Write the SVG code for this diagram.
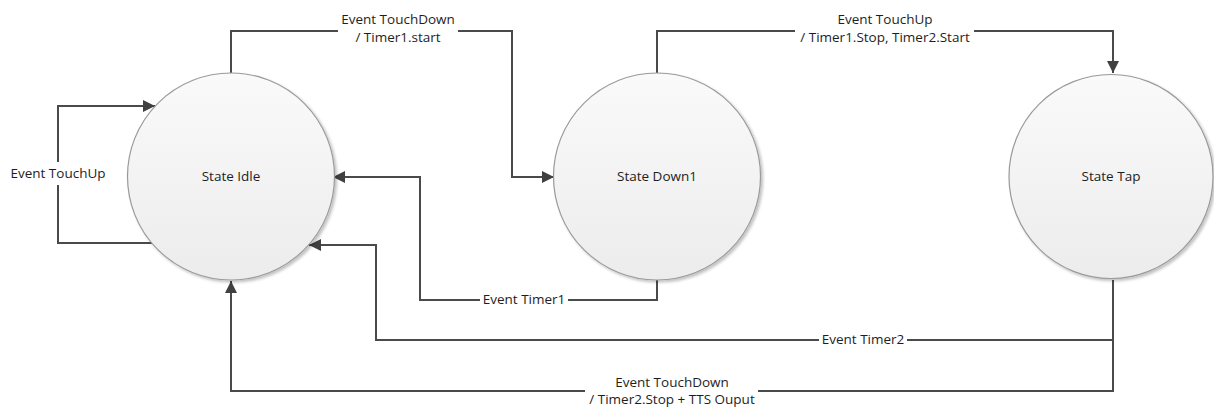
<svg xmlns="http://www.w3.org/2000/svg" width="1214" height="407" viewBox="0 0 1214 407">
<defs>
<linearGradient id="g" x1="0" y1="0" x2="0" y2="1">
<stop offset="0" stop-color="#fafafa"/>
<stop offset="1" stop-color="#ececec"/>
</linearGradient>
<filter id="sh" x="-10%" y="-10%" width="130%" height="130%">
<feGaussianBlur in="SourceAlpha" stdDeviation="1.5"/>
<feOffset dx="2" dy="2"/>
<feComponentTransfer><feFuncA type="linear" slope="0.25"/></feComponentTransfer>
<feMerge><feMergeNode/><feMergeNode in="SourceGraphic"/></feMerge>
</filter>
<marker id="ah" markerUnits="userSpaceOnUse" markerWidth="14" markerHeight="12" refX="12" refY="6" orient="auto">
<path d="M0,0 L12,6 L0,12 Z" fill="#404040"/>
</marker>
</defs>
<style>
.st{fill:url(#g);stroke:#9a9a9a;stroke-width:1.2;filter:url(#sh)}
.c{fill:none;stroke:#4a4a4a;stroke-width:2}
text{font-family:"Open Sans","Liberation Sans",sans-serif;font-size:13.5px;fill:#1e1e1e}
.m{text-anchor:middle}
</style>
<rect width="1214" height="407" fill="#ffffff"/>
<g id="connectors">
<polyline class="c" points="231,73 231,31 338,31"/>
<polyline class="c" points="458,31 512,31 512,177 554,177" marker-end="url(#ah)"/>
<polyline class="c" points="657,73 657,31 795,31"/>
<polyline class="c" points="974,31 1113,31 1113,73" marker-end="url(#ah)"/>
<polyline class="c" points="152,243 58,243 58,185"/>
<polyline class="c" points="58,162 58,106 155,106" marker-end="url(#ah)"/>
<polyline class="c" points="657,280 657,300 568,300"/>
<polyline class="c" points="480,300 420,300 420,177 333,177" marker-end="url(#ah)"/>
<polyline class="c" points="1113,280 1113,340 907,340"/>
<polyline class="c" points="819,340 376,340 376,245 309,245" marker-end="url(#ah)"/>
<polyline class="c" points="1113,340 1113,391 758,391"/>
<polyline class="c" points="585,391 231,391 231,281" marker-end="url(#ah)"/>
<text class="m" x="398" y="24">Event TouchDown</text>
<text class="m" x="398" y="42">/ Timer1.start</text>
<text class="m" x="885" y="24">Event TouchUp</text>
<text class="m" x="885" y="42">/ Timer1.Stop, Timer2.Start</text>
<text class="m" x="58" y="178">Event TouchUp</text>
<text class="m" x="524" y="304">Event Timer1</text>
<text class="m" x="863" y="344">Event Timer2</text>
<text class="m" x="672" y="387">Event TouchDown</text>
<text class="m" x="672" y="404">/ Timer2.Stop + TTS Ouput</text>
</g>
<g id="idle">
<circle class="st" cx="231" cy="176.5" r="103.5"/>
<text class="m" x="231" y="181">State Idle</text>
</g>
<g id="down1">
<circle class="st" cx="657" cy="176.5" r="103.5"/>
<text class="m" x="657" y="181">State Down1</text>
</g>
<g id="tap">
<circle class="st" cx="1111" cy="176.5" r="102"/>
<text class="m" x="1111" y="181">State Tap</text>
</g>
</svg>
